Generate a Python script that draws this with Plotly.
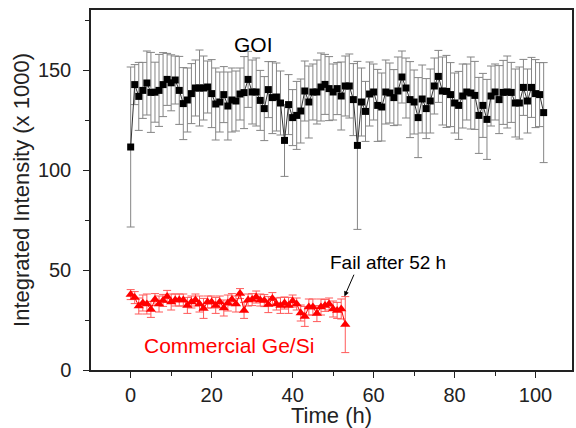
import plotly.graph_objects as go

# GOI sample, one reading per hour
goi_time = list(range(0, 103))
goi_value = [
    111.5, 142.7, 136.8, 139.8, 143.5, 138.8, 138.9, 139.8, 142.7, 145.3,
    143.6, 145.0, 139.8, 133.2, 135.0, 138.2, 141.0, 141.0, 141.0, 141.5,
    138.2, 133.0, 134.0, 137.7, 132.0, 135.0, 134.5, 138.0, 138.7, 145.3,
    139.0, 139.0, 134.8, 130.7, 140.2, 136.2, 136.5, 133.5, 114.8, 132.7,
    126.2, 127.3, 129.5, 139.5, 134.0, 139.0, 139.0, 141.5, 142.8, 140.7,
    139.0, 140.7, 137.0, 142.0, 142.0, 135.2, 112.3, 134.0, 129.3, 138.0,
    139.0, 132.3, 131.5, 139.0, 138.5, 136.2, 139.5, 146.5, 141.0, 135.2,
    134.0, 126.2, 135.5, 130.7, 134.5, 142.0, 146.8, 139.5, 139.3, 137.7,
    133.5, 132.3, 137.0, 139.0, 138.5, 137.3, 127.3, 132.3, 125.3, 137.0,
    139.0, 135.2, 138.8, 139.0, 138.8, 133.5, 133.5, 141.3, 134.5, 141.3,
    138.2, 137.7, 128.7,
]
goi_err = [
    40, 10, 17, 14, 16, 20, 15, 18, 16, 13,
    14, 12, 17, 18, 16, 15, 14, 19, 16, 13,
    17, 18, 15, 14, 17, 16, 15, 13, 18, 14,
    16, 17, 15, 16, 14, 18, 17, 16, 18, 15,
    14, 17, 16, 15, 18, 14, 16, 17, 15, 16,
    14, 13, 17, 15, 16, 18, 42, 17, 15, 16,
    14, 18, 17, 16, 15, 14, 17, 13, 15, 19,
    16, 20, 17, 15, 16, 14, 13, 17, 18, 16,
    15, 17, 16, 14, 18, 17, 19, 16, 20, 15,
    14, 17, 16, 18, 15, 17, 18, 14, 16, 15,
    17, 16, 25,
]

# commercial Ge/Si sample, failed after 52 h
gesi_time = list(range(0, 54))
gesi_value = [
    37.7, 36.2, 32.0, 33.5, 33.0, 30.3, 35.2, 33.0, 34.8, 36.8,
    34.0, 35.0, 35.0, 35.0, 32.3, 34.0, 35.0, 33.0, 30.8, 34.0,
    34.0, 32.3, 34.0, 31.0, 33.5, 35.2, 33.0, 38.2, 29.8, 35.0,
    35.2, 36.5, 35.0, 34.7, 32.7, 35.7, 33.0, 32.3, 33.5, 32.3,
    34.5, 33.0, 28.5, 26.8, 31.5, 31.5, 28.2, 31.5, 32.3, 33.0,
    30.5, 29.8, 30.5, 22.7,
]
gesi_err = [
    2.5, 3, 4, 4, 5, 4, 3, 4, 3, 3,
    4, 3, 3, 3, 4, 3, 3, 4, 5, 3,
    3, 4, 3, 4, 4, 3, 4, 2.5, 4, 3,
    3, 3, 3, 3, 4, 3, 3, 4, 3, 4,
    3, 3, 4, 5, 4, 4, 4, 4, 3, 3,
    4, 4, 5, 14,
]

FONT = "Arial, Liberation Sans, sans-serif"
INK = "#222222"

fig = go.Figure()

fig.add_trace(go.Scatter(
    x=goi_time, y=goi_value,
    mode="lines+markers",
    line=dict(color="#333333", width=1),
    marker=dict(symbol="square", size=7, color="black"),
    error_y=dict(type="data", array=goi_err, color="#858585", thickness=1, width=4),
    name="GOI",
))

fig.add_trace(go.Scatter(
    x=gesi_time, y=gesi_value,
    mode="lines+markers",
    line=dict(color="red", width=1),
    marker=dict(symbol="triangle-up", size=9, color="red"),
    error_y=dict(type="data", array=gesi_err, color="#ff5a5a", thickness=1, width=4),
    name="Commercial Ge/Si",
))

fig.add_annotation(x=30.4, y=163, text="GOI", showarrow=False,
                   font=dict(size=21, color="black", family=FONT))
fig.add_annotation(x=24.4, y=12.5, text="Commercial Ge/Si", showarrow=False,
                   font=dict(size=21, color="red", family=FONT))
fig.add_annotation(x=63.6, y=54, text="Fail after 52 h", showarrow=False,
                   font=dict(size=19, color="black", family=FONT))
fig.add_annotation(x=52.8, y=36.8, ax=55.3, ay=48.4, axref="x", ayref="y",
                   text="", showarrow=True, arrowhead=2, arrowsize=1,
                   arrowwidth=1, arrowcolor="black")

axis_common = dict(
    showline=True, linecolor=INK, linewidth=1.5, mirror=True,
    ticks="outside", ticklen=6, tickwidth=1.2, tickcolor=INK,
    showgrid=False, zeroline=False, automargin=False,
    tickfont=dict(size=20, color=INK, family=FONT),
)

fig.update_xaxes(
    range=[-9.8, 109], tickvals=[0, 20, 40, 60, 80, 100],
    minor=dict(ticks="outside", ticklen=4, tickwidth=1.2, tickcolor=INK,
               tickvals=[10, 30, 50, 70, 90]),
    title=dict(text="Time (h)", font=dict(size=22, color=INK, family=FONT), standoff=0),
    **axis_common,
)
fig.update_yaxes(
    range=[0, 180], tickvals=[0, 50, 100, 150],
    minor=dict(ticks="outside", ticklen=4, tickwidth=1.2, tickcolor=INK,
               tickvals=[25, 75, 125, 175]),
    title=dict(text="Integrated Intensity (x 1000)",
               font=dict(size=22, color=INK, family=FONT), standoff=2),
    ticklabelstandoff=8,
    **axis_common,
)

fig.update_layout(
    width=576, height=428,
    margin=dict(l=91, r=4, t=10, b=58),
    paper_bgcolor="white", plot_bgcolor="white",
    showlegend=False,
)

# page body has a default 8px margin; drop it so the figure sits at the corner
fig.write_html("out.html", config={"displayModeBar": False},
               post_script="document.body.style.margin='0';")
